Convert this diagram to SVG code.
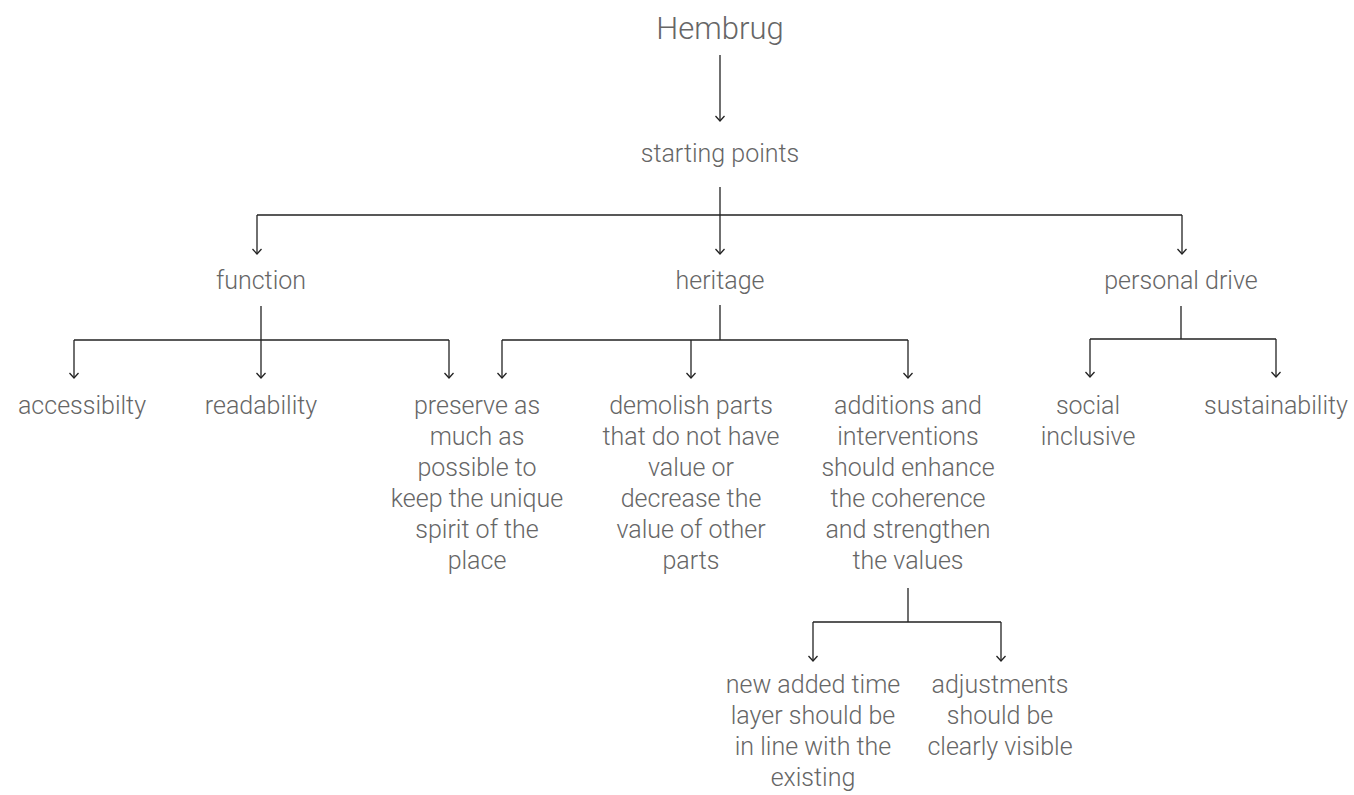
<svg xmlns="http://www.w3.org/2000/svg" width="1354" height="795" viewBox="0 0 1354 795">
<style>
text{font-family:"Roboto Light",Roboto,"Liberation Sans",sans-serif;font-weight:300;font-size:25px;fill:#666;text-anchor:middle}
.t{font-size:31px}
.c{fill:none;stroke:#222;stroke-width:1.3}
.a{marker-end:url(#ah)}
</style>
<defs>
<marker id="ah" markerUnits="userSpaceOnUse" markerWidth="14" markerHeight="12" viewBox="-7 -6 14 12" refX="0" refY="0" orient="auto">
<path d="M-5,-4.5 L0,0 L-5,4.5" fill="none" stroke="#222" stroke-width="1.3"/>
</marker>
</defs>
<rect width="1354" height="795" fill="#fff"/>
<g id="connectors">
<path class="c a" d="M720,55 V121"/>
<path class="c" d="M720,187 V215 M257,215 H1182"/>
<path class="c a" d="M257,215 V254"/>
<path class="c a" d="M720,215 V254"/>
<path class="c a" d="M1182,215 V254"/>
<path class="c" d="M74,340 H449"/>
<path class="c a" d="M261,306 V378"/>
<path class="c a" d="M74,340 V378"/>
<path class="c a" d="M449,340 V378"/>
<path class="c" d="M720,305 V340 M502,340 H908"/>
<path class="c a" d="M502,340 V378"/>
<path class="c a" d="M691,340 V378"/>
<path class="c a" d="M908,340 V378"/>
<path class="c" d="M1181,306 V339 M1090,339 H1276"/>
<path class="c a" d="M1090,339 V377"/>
<path class="c a" d="M1276,339 V377"/>
<path class="c" d="M908,588 V622 M813,622 H1001"/>
<path class="c a" d="M813,622 V661"/>
<path class="c a" d="M1001,622 V661"/>
</g>
<g id="hembrug"><text class="t" x="720" y="39">Hembrug</text></g>
<g id="starting-points"><text x="720" y="162">starting points</text></g>
<g id="function"><text x="261" y="289">function</text></g>
<g id="heritage"><text x="720" y="289">heritage</text></g>
<g id="personal-drive"><text x="1181" y="289">personal drive</text></g>
<g id="accessibilty"><text x="82" y="414">accessibilty</text></g>
<g id="readability"><text x="261" y="414">readability</text></g>
<g id="preserve"><text x="477" y="414"><tspan x="477">preserve as</tspan><tspan x="477" dy="31">much as</tspan><tspan x="477" dy="31">possible to</tspan><tspan x="477" dy="31">keep the unique</tspan><tspan x="477" dy="31">spirit of the</tspan><tspan x="477" dy="31">place</tspan></text></g>
<g id="demolish"><text x="691" y="414"><tspan x="691">demolish parts</tspan><tspan x="691" dy="31">that do not have</tspan><tspan x="691" dy="31">value or</tspan><tspan x="691" dy="31">decrease the</tspan><tspan x="691" dy="31">value of other</tspan><tspan x="691" dy="31">parts</tspan></text></g>
<g id="additions"><text x="908" y="414"><tspan x="908">additions and</tspan><tspan x="908" dy="31">interventions</tspan><tspan x="908" dy="31">should enhance</tspan><tspan x="908" dy="31">the coherence</tspan><tspan x="908" dy="31">and strengthen</tspan><tspan x="908" dy="31">the values</tspan></text></g>
<g id="social-inclusive"><text x="1088" y="414"><tspan x="1088">social</tspan><tspan x="1088" dy="31">inclusive</tspan></text></g>
<g id="sustainability"><text x="1276" y="414">sustainability</text></g>
<g id="new-added"><text x="813" y="693"><tspan x="813">new added time</tspan><tspan x="813" dy="31">layer should be</tspan><tspan x="813" dy="31">in line with the</tspan><tspan x="813" dy="31">existing</tspan></text></g>
<g id="adjustments"><text x="1000" y="693"><tspan x="1000">adjustments</tspan><tspan x="1000" dy="31">should be</tspan><tspan x="1000" dy="31">clearly visible</tspan></text></g>
</svg>
